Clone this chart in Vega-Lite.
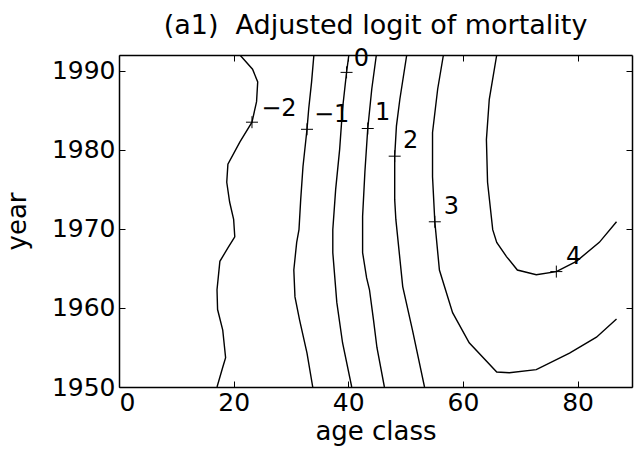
{
  "$schema": "https://vega.github.io/schema/vega-lite/v6.json",
  "width": 513,
  "height": 332,
  "autosize": "none",
  "padding": {"left": 119, "top": 55, "right": 6, "bottom": 65},
  "background": "white",
  "title": {"text": "(a1)\u00a0 Adjusted logit of mortality", "fontSize": 27, "font": "DejaVu Sans", "fontWeight": "normal", "color": "black", "anchor": "middle", "baseline": "alphabetic", "frame": "group", "offset": -14},
  "config": {
    "font": "DejaVu Sans",
    "view": {"stroke": null},
    "axis": {"labelFontSize": 25, "titleFontSize": 26, "titleFontWeight": "normal", "labelColor": "black", "titleColor": "black", "tickColor": "black", "domainColor": "black", "domainWidth": 1.5, "tickWidth": 1, "tickSize": -6, "grid": false, "labelFont": "DejaVu Sans", "titleFont": "DejaVu Sans"}
  },
  "datasets": {
    "contours": [
      {"level": "-2", "i": 0, "age": 21.1, "year": 1992.0},
      {"level": "-2", "i": 1, "age": 23.3, "year": 1990.2},
      {"level": "-2", "i": 2, "age": 24.2, "year": 1988.6},
      {"level": "-2", "i": 3, "age": 24.0, "year": 1986.1},
      {"level": "-2", "i": 4, "age": 23.2, "year": 1983.5},
      {"level": "-2", "i": 5, "age": 21.1, "year": 1981.0},
      {"level": "-2", "i": 6, "age": 19.0, "year": 1978.2},
      {"level": "-2", "i": 7, "age": 18.8, "year": 1975.9},
      {"level": "-2", "i": 8, "age": 19.3, "year": 1973.4},
      {"level": "-2", "i": 9, "age": 20.0, "year": 1971.2},
      {"level": "-2", "i": 10, "age": 20.2, "year": 1969.0},
      {"level": "-2", "i": 11, "age": 19.0, "year": 1967.6},
      {"level": "-2", "i": 12, "age": 17.6, "year": 1965.9},
      {"level": "-2", "i": 13, "age": 17.1, "year": 1962.3},
      {"level": "-2", "i": 14, "age": 17.2, "year": 1959.8},
      {"level": "-2", "i": 15, "age": 18.1, "year": 1957.2},
      {"level": "-2", "i": 16, "age": 18.6, "year": 1953.7},
      {"level": "-2", "i": 17, "age": 18.1, "year": 1952.5},
      {"level": "-2", "i": 18, "age": 17.1, "year": 1950.0},
      {"level": "-1", "i": 0, "age": 34.0, "year": 1992.0},
      {"level": "-1", "i": 1, "age": 33.6, "year": 1988.6},
      {"level": "-1", "i": 2, "age": 33.1, "year": 1985.2},
      {"level": "-1", "i": 3, "age": 32.8, "year": 1982.6},
      {"level": "-1", "i": 4, "age": 32.1, "year": 1977.9},
      {"level": "-1", "i": 5, "age": 31.7, "year": 1973.7},
      {"level": "-1", "i": 6, "age": 31.4, "year": 1969.9},
      {"level": "-1", "i": 7, "age": 31.0, "year": 1968.3},
      {"level": "-1", "i": 8, "age": 30.5, "year": 1964.8},
      {"level": "-1", "i": 9, "age": 30.7, "year": 1961.4},
      {"level": "-1", "i": 10, "age": 31.5, "year": 1958.5},
      {"level": "-1", "i": 11, "age": 32.8, "year": 1954.3},
      {"level": "-1", "i": 12, "age": 33.8, "year": 1950.0},
      {"level": "0", "i": 0, "age": 40.1, "year": 1992.0},
      {"level": "0", "i": 1, "age": 39.7, "year": 1989.8},
      {"level": "0", "i": 2, "age": 39.0, "year": 1985.2},
      {"level": "0", "i": 3, "age": 38.5, "year": 1980.1},
      {"level": "0", "i": 4, "age": 37.8, "year": 1975.0},
      {"level": "0", "i": 5, "age": 37.3, "year": 1969.9},
      {"level": "0", "i": 6, "age": 37.3, "year": 1967.0},
      {"level": "0", "i": 7, "age": 38.0, "year": 1960.7},
      {"level": "0", "i": 8, "age": 39.0, "year": 1955.6},
      {"level": "0", "i": 9, "age": 40.6, "year": 1950.0},
      {"level": "1", "i": 0, "age": 44.9, "year": 1992.0},
      {"level": "1", "i": 1, "age": 44.1, "year": 1987.7},
      {"level": "1", "i": 2, "age": 43.4, "year": 1982.7},
      {"level": "1", "i": 3, "age": 42.9, "year": 1977.2},
      {"level": "1", "i": 4, "age": 42.5, "year": 1971.6},
      {"level": "1", "i": 5, "age": 42.5, "year": 1967.0},
      {"level": "1", "i": 6, "age": 43.2, "year": 1963.8},
      {"level": "1", "i": 7, "age": 43.7, "year": 1962.3},
      {"level": "1", "i": 8, "age": 44.4, "year": 1958.5},
      {"level": "1", "i": 9, "age": 45.0, "year": 1955.0},
      {"level": "1", "i": 10, "age": 46.3, "year": 1950.0},
      {"level": "2", "i": 0, "age": 50.2, "year": 1992.0},
      {"level": "2", "i": 1, "age": 49.0, "year": 1986.4},
      {"level": "2", "i": 2, "age": 48.4, "year": 1983.0},
      {"level": "2", "i": 3, "age": 48.1, "year": 1979.2},
      {"level": "2", "i": 4, "age": 48.1, "year": 1973.7},
      {"level": "2", "i": 5, "age": 48.3, "year": 1971.2},
      {"level": "2", "i": 6, "age": 49.5, "year": 1962.7},
      {"level": "2", "i": 7, "age": 51.2, "year": 1957.2},
      {"level": "2", "i": 8, "age": 53.3, "year": 1950.0},
      {"level": "3", "i": 0, "age": 56.6, "year": 1992.0},
      {"level": "3", "i": 1, "age": 55.6, "year": 1987.7},
      {"level": "3", "i": 2, "age": 54.7, "year": 1982.2},
      {"level": "3", "i": 3, "age": 54.7, "year": 1976.6},
      {"level": "3", "i": 4, "age": 55.1, "year": 1970.9},
      {"level": "3", "i": 5, "age": 55.9, "year": 1964.8},
      {"level": "3", "i": 6, "age": 58.2, "year": 1959.4},
      {"level": "3", "i": 7, "age": 61.1, "year": 1955.6},
      {"level": "3", "i": 8, "age": 65.9, "year": 1951.9},
      {"level": "3", "i": 9, "age": 68.1, "year": 1951.8},
      {"level": "3", "i": 10, "age": 72.8, "year": 1952.2},
      {"level": "3", "i": 11, "age": 78.6, "year": 1954.3},
      {"level": "3", "i": 12, "age": 83.3, "year": 1956.3},
      {"level": "3", "i": 13, "age": 86.8, "year": 1958.6},
      {"level": "4", "i": 0, "age": 65.9, "year": 1992.0},
      {"level": "4", "i": 1, "age": 64.6, "year": 1986.4},
      {"level": "4", "i": 2, "age": 64.1, "year": 1981.3},
      {"level": "4", "i": 3, "age": 64.3, "year": 1975.9},
      {"level": "4", "i": 4, "age": 65.2, "year": 1969.9},
      {"level": "4", "i": 5, "age": 65.9, "year": 1968.3},
      {"level": "4", "i": 6, "age": 67.6, "year": 1966.5},
      {"level": "4", "i": 7, "age": 69.5, "year": 1964.8},
      {"level": "4", "i": 8, "age": 72.8, "year": 1964.2},
      {"level": "4", "i": 9, "age": 76.3, "year": 1964.6},
      {"level": "4", "i": 10, "age": 79.8, "year": 1965.9},
      {"level": "4", "i": 11, "age": 83.8, "year": 1968.3},
      {"level": "4", "i": 12, "age": 86.8, "year": 1970.9}
    ],
    "markers": [
      {"level": "-2", "age": 23.2, "year": 1983.5},
      {"level": "-1", "age": 32.8, "year": 1982.6},
      {"level": "0", "age": 39.7, "year": 1989.8},
      {"level": "1", "age": 43.4, "year": 1982.7},
      {"level": "2", "age": 48.1, "year": 1979.2},
      {"level": "3", "age": 55.1, "year": 1970.9},
      {"level": "4", "age": 76.3, "year": 1964.6}
    ],
    "labels": [
      {"text": "−2", "age": 27.9, "year": 1985.2},
      {"text": "−1", "age": 37.1, "year": 1984.4},
      {"text": "0", "age": 42.3, "year": 1991.5},
      {"text": "1", "age": 46.0, "year": 1984.6},
      {"text": "2", "age": 50.9, "year": 1981.1},
      {"text": "3", "age": 58.0, "year": 1972.8},
      {"text": "4", "age": 79.3, "year": 1966.4}
    ]
  },
  "resolve": {"axis": {"x": "independent", "y": "independent"}},
  "layer": [
    {
      "data": {"name": "contours"},
      "mark": {"type": "line", "color": "black", "strokeWidth": 1.4, "clip": true},
      "encoding": {
        "x": {"field": "age", "type": "quantitative", "scale": {"domain": [0, 89.5], "nice": false, "zero": false},
              "axis": {"orient": "bottom", "values": [0, 20, 40, 60, 80], "title": "age class", "labelPadding": 9, "titleBaseline": "alphabetic", "titleY": 52}},
        "y": {"field": "year", "type": "quantitative", "scale": {"domain": [1950, 1992], "nice": false, "zero": false},
              "axis": {"orient": "left", "values": [1950, 1960, 1970, 1980, 1990], "format": "d", "title": "year", "labelPadding": 10, "titleBaseline": "alphabetic", "titleX": -94}},
        "detail": {"field": "level"},
        "order": {"field": "i"}
      }
    },
    {
      "data": {"name": "markers"},
      "mark": {"type": "point", "shape": "M -1 0 L 1 0 M 0 -1 L 0 1", "size": 144, "filled": false, "stroke": "black", "strokeWidth": 1, "opacity": 1},
      "encoding": {
        "x": {"field": "age", "type": "quantitative", "axis": {"orient": "top", "values": [0, 20, 40, 60, 80], "labels": false, "title": null}},
        "y": {"field": "year", "type": "quantitative", "axis": {"orient": "right", "values": [1950, 1960, 1970, 1980, 1990], "labels": false, "title": null}}
      }
    },
    {
      "data": {"name": "labels"},
      "mark": {"type": "text", "fontSize": 24, "font": "DejaVu Sans", "color": "black", "align": "center", "baseline": "middle"},
      "encoding": {
        "x": {"field": "age", "type": "quantitative", "axis": null},
        "y": {"field": "year", "type": "quantitative", "axis": null},
        "text": {"field": "text"}
      }
    }
  ]
}
